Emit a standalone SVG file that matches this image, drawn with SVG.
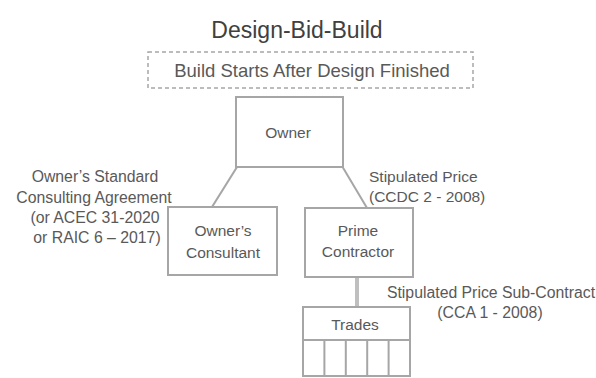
<svg xmlns="http://www.w3.org/2000/svg" width="596" height="378" viewBox="0 0 596 378">
<style>
text{font-family:"Liberation Sans",Arial,sans-serif;fill:#595959;font-size:15.8px}
.t{font-size:23px;fill:#404040;text-anchor:middle}
.n{font-size:18.5px;text-anchor:middle}
.c{text-anchor:middle}
.b{font-size:15.5px;text-anchor:middle}
.box{fill:#fff;stroke:#a6a6a6;stroke-width:2}
.ln{stroke:#a6a6a6;stroke-width:2;fill:none}
</style>
<rect width="596" height="378" fill="#fff"/>
<g id="title"><text class="t" x="297" y="38">Design-Bid-Build</text></g>
<g id="banner">
<rect x="148" y="52" width="325" height="36" fill="none" stroke="#a6a6a6" stroke-width="1.5" stroke-dasharray="4,3"/>
<text class="n" x="312" y="77">Build Starts After Design Finished</text>
</g>
<g id="connectors">
<line class="ln" x1="237" y1="167" x2="212" y2="207"/>
<line class="ln" x1="342" y1="166" x2="367" y2="208"/>
<line x1="357" y1="277" x2="357" y2="307" stroke="#bfbfbf" stroke-width="4"/>
</g>
<g id="owner">
<rect class="box" x="236" y="97" width="107" height="70"/>
<text class="b" x="288" y="138">Owner</text>
</g>
<g id="consultant">
<rect class="box" x="168" y="207" width="109" height="68"/>
<text class="b" x="223" y="236">Owner’s</text>
<text class="b" x="223" y="258">Consultant</text>
</g>
<g id="contractor">
<rect class="box" x="305" y="208" width="108" height="69"/>
<text class="b" x="358" y="236">Prime</text>
<text class="b" x="358" y="257">Contractor</text>
</g>
<g id="trades">
<rect class="box" x="303" y="307" width="107" height="69"/>
<line class="ln" x1="303" y1="340" x2="410" y2="340"/>
<line class="ln" x1="324.4" y1="340" x2="324.4" y2="376"/>
<line class="ln" x1="345.8" y1="340" x2="345.8" y2="376"/>
<line class="ln" x1="367.2" y1="340" x2="367.2" y2="376"/>
<line class="ln" x1="388.6" y1="340" x2="388.6" y2="376"/>
<text class="b" x="355" y="330">Trades</text>
</g>
<g id="labels">
<text class="c" x="95" y="182">Owner’s Standard</text>
<text class="c" x="94" y="203">Consulting Agreement</text>
<text class="c" x="95" y="223">(or ACEC 31-2020</text>
<text class="c" x="97" y="243">or RAIC 6 – 2017)</text>
<text x="369" y="182" style="font-size:15.5px">Stipulated Price</text>
<text x="369" y="202" style="font-size:15.5px">(CCDC 2 - 2008)</text>
<text class="c" x="491" y="298">Stipulated Price Sub-Contract</text>
<text class="c" x="490" y="318">(CCA 1 - 2008)</text>
</g>
</svg>
